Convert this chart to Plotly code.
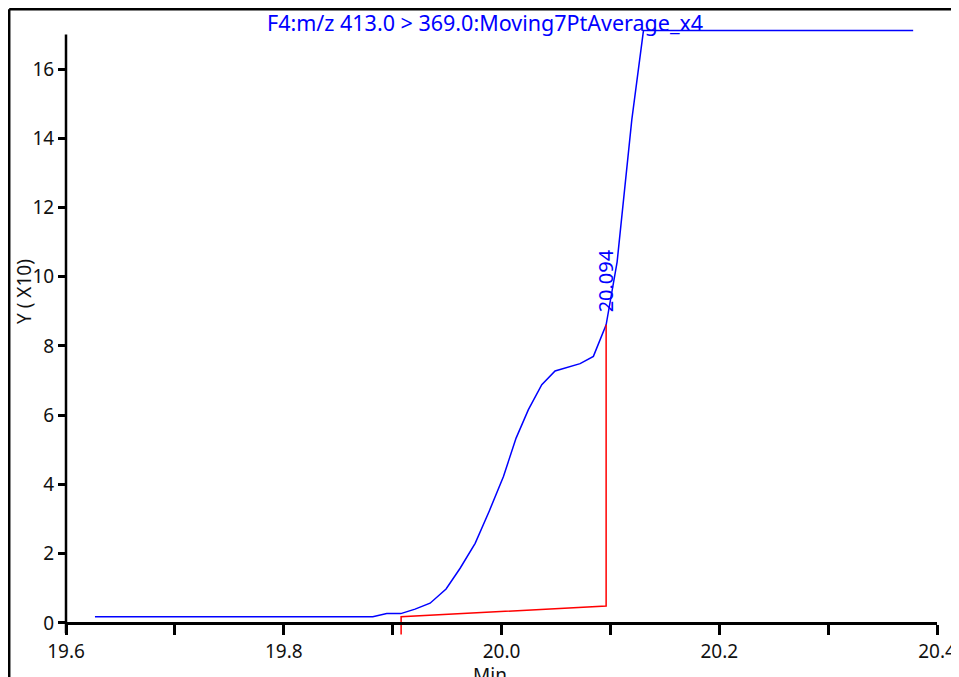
import plotly.graph_objects as go

# ---- data ----
time_min = [19.6266, 19.8818, 19.8946, 19.9075, 19.9206, 19.9344, 19.9491, 19.9620,
            19.9758, 19.9890, 20.0018, 20.0134, 20.0247, 20.0370, 20.0492, 20.0722,
            20.0844, 20.0961, 20.1062, 20.1197, 20.1304, 20.3781]
intensity_x10 = [0.18, 0.18, 0.27, 0.27, 0.40, 0.57, 0.98, 1.58,
                 2.30, 3.25, 4.23, 5.34, 6.16, 6.88, 7.28, 7.49,
                 7.70, 8.61, 10.43, 14.54, 17.11, 17.11]

baseline_t = [19.9078, 19.9078, 20.0961, 20.0961]
baseline_v = [-0.33, 0.18, 0.49, 8.61]

peak_rt_label = "20.094"
peak_label_pos = (20.0955, 9.88)

title_text = "F4:m/z 413.0 > 369.0:Moving7PtAverage_x4"
x_title = "Min"
y_title = "Y ( X10)"

x_range = [19.6, 20.4]
y_range = [-0.55, 17.3]
y_axis_top = 17.0

FONT = "Noto Sans"
BLUE = "#0000ff"

fig = go.Figure()
fig.add_trace(go.Scatter(x=time_min, y=intensity_x10, mode="lines",
                         line=dict(color=BLUE, width=1.5), hoverinfo="skip"))
fig.add_trace(go.Scatter(x=baseline_t, y=baseline_v, mode="lines",
                         line=dict(color="#ff0000", width=1.5), hoverinfo="skip"))

# page body adds an 8px margin, so the figure is sized to the remaining window
fig.update_layout(
    template="none",
    width=951, height=669,
    margin=dict(l=58, r=22, t=16, b=35, autoexpand=False),
    paper_bgcolor="white", plot_bgcolor="white",
    showlegend=False,
    font=dict(family=FONT, size=19, color="#111111"),
    xaxis=dict(range=x_range, tickmode="array", tickvals=[19.6, 19.8, 20.0, 20.2, 20.4],
               ticktext=["19.6", "19.8", "20.0", "20.2", "20.4"],
               ticks="outside", ticklen=10, tickwidth=2.5, tickcolor="black",
               minor=dict(tickvals=[19.7, 19.9, 20.1, 20.3], ticks="outside", ticklen=10,
                          tickwidth=2.5, tickcolor="black", showgrid=False),
               showline=True, linewidth=2.5, linecolor="black",
               showgrid=False, zeroline=False, automargin=False,
               anchor="free", position=(0 - y_range[0]) / (y_range[1] - y_range[0]),
               tickfont=dict(family=FONT, size=19, color="#111111")),
    yaxis=dict(range=y_range, tickmode="array", tickvals=list(range(0, 17, 2)),
               ticktext=[str(v) for v in range(0, 17, 2)],
               ticks="outside", ticklen=7, tickwidth=2.5, tickcolor="black",
               showline=False, showgrid=False, zeroline=False, automargin=False,
               tickfont=dict(family=FONT, size=19, color="#111111")),
)

# y axis line from 0 to top tick extent
fig.add_shape(type="line", xref="paper", yref="y", x0=0, x1=0, y0=-0.3, y1=y_axis_top,
              line=dict(color="black", width=2.5))

# outer frame (partially visible: left and top edges)
fig.add_shape(type="line", xref="paper", yref="paper", x0=-0.0652, x1=-0.0652, y0=1.0239, y1=-0.1,
              line=dict(color="black", width=2.5))
fig.add_shape(type="line", xref="paper", yref="paper", x0=-0.0652, x1=1.05, y0=1.0239, y1=1.0239,
              line=dict(color="black", width=2.5))

fig.add_annotation(text=title_text, xref="paper", yref="paper", x=0.481, y=1.0032,
                   showarrow=False, xanchor="center", yanchor="middle",
                   font=dict(family=FONT, size=21.5, color=BLUE))
fig.add_annotation(text=peak_rt_label, xref="x", yref="y", x=peak_label_pos[0], y=peak_label_pos[1],
                   showarrow=False, textangle=-90, xanchor="center", yanchor="middle",
                   font=dict(family=FONT, size=20, color=BLUE))
fig.add_annotation(text=x_title, xref="paper", yref="paper", x=0.487, y=-0.0534,
                   showarrow=False, xanchor="center", yanchor="middle",
                   font=dict(family=FONT, size=19, color="#111111"))
fig.add_annotation(text=y_title, xref="paper", yref="paper", x=-0.0482, y=0.5663,
                   showarrow=False, textangle=-90, xanchor="center", yanchor="middle",
                   font=dict(family=FONT, size=19, color="#111111"))

fig.write_html("out.html")
